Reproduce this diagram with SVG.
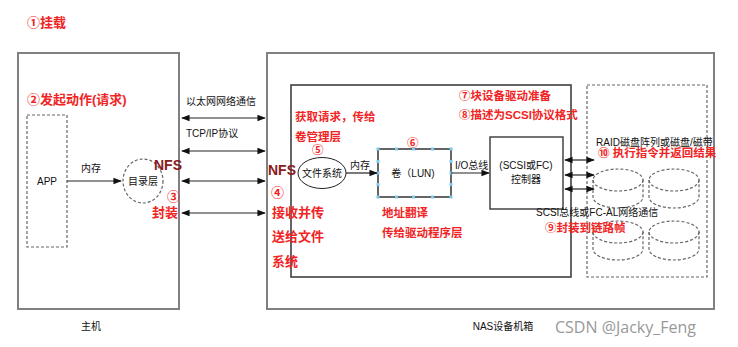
<svg xmlns="http://www.w3.org/2000/svg" width="738" height="347" viewBox="0 0 738 347">
<style>
.t{font-family:"Liberation Sans","Noto Sans CJK SC",sans-serif;font-size:10px;fill:#111}
.r{font-family:"Liberation Sans","Noto Sans CJK SC",sans-serif;font-size:13px;font-weight:bold;fill:#f02424}
.s{font-size:11.5px}
.nfs{font-family:"Liberation Sans","Noto Sans CJK SC",sans-serif;font-size:14px;font-weight:bold;fill:#8b1a1a}
.box{fill:none;stroke:#808080;stroke-width:2}
.ib{fill:none;stroke:#333;stroke-width:1.5}
.dash{fill:none;stroke:#666;stroke-width:1.2;stroke-dasharray:3,2}
.ln{stroke:#222;stroke-width:1.2;fill:none}
.h{fill:#7cc8ee}
</style>
<defs>
<marker id="a" viewBox="0 0 10 10" refX="9" refY="5" markerWidth="7" markerHeight="7" orient="auto-start-reverse"><path d="M0,1 L10,5 L0,9 Z" fill="#111"/></marker>
</defs>
<rect width="738" height="347" fill="#fff"/>
<g id="host"><rect class="box" x="18" y="53" width="161" height="256"/><text class="t" x="91" y="330" text-anchor="middle">主机</text></g>
<g id="nas"><rect class="box" x="267" y="53" width="447" height="256"/><text class="t" x="503" y="330" text-anchor="middle">NAS设备机箱</text></g>
<g id="inner"><rect class="ib" x="291" y="85" width="280" height="192"/></g>
<g id="storage"><rect class="dash" x="587" y="85" width="120" height="192"/>
<g class="dash">
<path d="M593,180 v17 a25,11 0 0 0 50,0 v-17"/><ellipse cx="618" cy="180" rx="25" ry="11"/>
<path d="M649,180 v17 a25,11 0 0 0 50,0 v-17"/><ellipse cx="674" cy="180" rx="25" ry="11"/>
<path d="M593,232 v17 a25,11 0 0 0 50,0 v-17"/><ellipse cx="618" cy="232" rx="25" ry="11"/>
<path d="M649,232 v17 a25,11 0 0 0 50,0 v-17"/><ellipse cx="674" cy="232" rx="25" ry="11"/>
</g>
<text class="t" x="596" y="146">RAID磁盘阵列或磁盘/磁带</text>
<text class="r s" x="598" y="157">⑩ 执行指令并返回结果</text>
</g>
<g id="app"><rect class="dash" x="27" y="115" width="40" height="132"/><text class="t" x="47" y="185" text-anchor="middle">APP</text></g>
<g id="dir"><ellipse class="dash" cx="143" cy="181" rx="20" ry="22"/><text class="t" x="143" y="185" text-anchor="middle">目录层</text></g>
<g id="fs"><ellipse cx="322" cy="173" rx="24" ry="15.5" fill="none" stroke="#222" stroke-width="1"/><text class="t" x="322" y="177" text-anchor="middle">文件系统</text></g>
<g id="lun"><rect x="378" y="149" width="73" height="48" fill="none" stroke="#333" stroke-width="1.5"/>
<text class="t" x="413" y="177" text-anchor="middle">卷（LUN)</text>
<g class="h"><rect x="376.5" y="147.5" width="3" height="3"/><rect x="395" y="147.5" width="3" height="3"/><rect x="412" y="147.5" width="3" height="3"/><rect x="431" y="147.5" width="3" height="3"/><rect x="449.5" y="147.5" width="3" height="3"/>
<rect x="376.5" y="195.5" width="3" height="3"/><rect x="395" y="195.5" width="3" height="3"/><rect x="412" y="195.5" width="3" height="3"/><rect x="431" y="195.5" width="3" height="3"/><rect x="449.5" y="195.5" width="3" height="3"/>
<rect x="376.5" y="160" width="3" height="3"/><rect x="376.5" y="171.5" width="3" height="3"/><rect x="376.5" y="183" width="3" height="3"/>
<rect x="449.5" y="160" width="3" height="3"/><rect x="449.5" y="171.5" width="3" height="3"/><rect x="449.5" y="183" width="3" height="3"/></g>
</g>
<g id="ctrl"><rect x="490" y="137" width="73" height="72" fill="none" stroke="#444" stroke-width="1.5"/>
<text class="t" x="526" y="169" text-anchor="middle">(SCSI或FC)</text><text class="t" x="526" y="183" text-anchor="middle">控制器</text></g>
<g id="connectors">
<line class="ln" x1="67" y1="181" x2="121" y2="181" marker-end="url(#a)"/>
<line class="ln" x1="182" y1="118" x2="265" y2="118" marker-start="url(#a)" marker-end="url(#a)"/>
<line class="ln" x1="182" y1="151" x2="265" y2="151" marker-start="url(#a)" marker-end="url(#a)"/>
<line class="ln" x1="182" y1="181" x2="265" y2="181" marker-start="url(#a)" marker-end="url(#a)"/>
<line class="ln" x1="182" y1="213" x2="265" y2="213" marker-start="url(#a)" marker-end="url(#a)"/>
<line class="ln" x1="346" y1="173" x2="377" y2="173" marker-end="url(#a)"/>
<line class="ln" x1="451" y1="173" x2="489" y2="173" marker-end="url(#a)"/>
<line class="ln" x1="565" y1="160" x2="594" y2="160" marker-start="url(#a)" marker-end="url(#a)"/>
<line class="ln" x1="565" y1="175" x2="594" y2="175" marker-start="url(#a)" marker-end="url(#a)"/>
<line class="ln" x1="565" y1="189" x2="594" y2="189" marker-start="url(#a)" marker-end="url(#a)"/>
</g>
<g id="labels">
<text class="t" x="81" y="172">内存</text>
<text class="t" x="186" y="105">以太网网络通信</text>
<text class="t" x="186" y="137">TCP/IP协议</text>
<text class="t" x="350" y="169">内存</text>
<text class="t" x="455" y="169">I/O总线</text>
<text class="t" x="536" y="216">SCSI总线或FC-AL网络通信</text>
<text class="r" x="27" y="27">①挂载</text>
<text class="r" x="27" y="104">②发起动作(请求)</text>
<text class="nfs" x="154" y="170">NFS</text>
<text class="r" x="167" y="201">③</text>
<text class="r" x="152" y="217">封装</text>
<text class="nfs" x="268" y="175">NFS</text>
<text class="r" x="271" y="197">④</text>
<text class="r" x="272" y="217">接收并传</text>
<text class="r" x="272" y="241">送给文件</text>
<text class="r" x="272" y="266">系统</text>
<text class="r s" x="295" y="121">获取请求，传给</text>
<text class="r s" x="295" y="141">卷管理层</text>
<text class="r s" x="312" y="154">⑤</text>
<text class="r s" x="407" y="147">⑥</text>
<text class="r s" x="382" y="217">地址翻译</text>
<text class="r s" x="382" y="237">传给驱动程序层</text>
<text class="r s" x="459" y="100">⑦块设备驱动准备</text>
<text class="r s" x="459" y="119">⑧描述为SCSI协议格式</text>
<text class="r s" x="545" y="232">⑨封装到链路帧</text>
<text x="555" y="333" style="font-family:'Open Sans','Noto Sans',sans-serif;font-size:16px;fill:#999">CSDN @Jacky_Feng</text>
</g>
</svg>
